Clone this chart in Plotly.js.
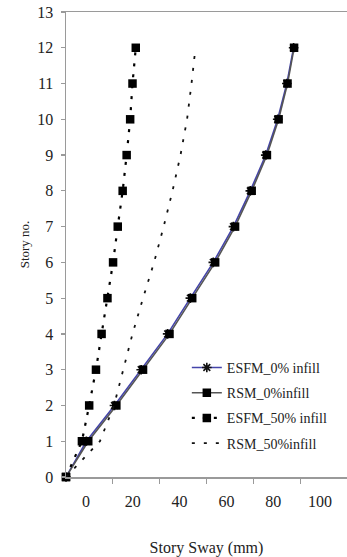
<!DOCTYPE html>
<html><head><meta charset="utf-8">
<script src="https://cdn.plot.ly/plotly-3.0.1.min.js"></script>
<style>html,body{margin:0;padding:0;background:#fff}#chart{width:347px;height:557px}</style>
</head><body><div id="chart"></div>
<script>
// Story numbers (y)
const stories = [0,1,2,3,4,5,6,7,8,9,10,11,12];
// Story sway values (mm), read against the printed x-axis labels
const esfm0  = [-8.5, 0.2, 12.2, 23.6, 34.9, 44.6, 54.4, 63.0, 70.2, 76.8, 81.9, 85.8, 88.7];
const rsm0   = [-8.5, 1.0, 13.0, 24.4, 35.7, 45.4, 55.2, 63.7, 70.8, 77.3, 82.3, 86.1, 88.9];
const esfm50 = [-8.5, -1.7, 1.4, 4.3, 6.7, 9.2, 11.6, 13.6, 15.7, 17.4, 18.9, 19.9, 21.3];
const rsm50  = [-8.5, 6.0, 12.0, 16.0, 19.9, 24.4, 29.1, 33.2, 37.0, 40.4, 43.2, 45.1, 46.8];
const seriesNames = ['ESFM_0% infill','RSM_0%infill','ESFM_50% infill','RSM_50%infill'];
const xTickVals = [0,20,40,60,80,100];
const xTickText = ['0','20','40','60','80','100'];
const yTickVals = [0,1,2,3,4,5,6,7,8,9,10,11,12,13];

const xMin = -8.5, xMax = 111.5;
const xMinorTicks = [];
for (let v = xMin + 20; v < xMax; v += 20) xMinorTicks.push(v);

const traces = [
  {x: esfm0, y: stories, name: seriesNames[0], legendgroup:'a', mode:'lines+markers', cliponaxis:false,
   line:{color:'#4444aa', width:1.6},
   marker:{symbol:'asterisk-open', size:8, color:'#111', line:{color:'#111', width:1.6}}},
  {x: rsm0, y: stories, name: seriesNames[1], legendgroup:'b', mode:'lines+markers', cliponaxis:false,
   line:{color:'#555555', width:1.6},
   marker:{symbol:'square', size:8.5, color:'#000'}},
  {x: esfm50, y: stories, name: seriesNames[2], legendgroup:'c', mode:'lines+markers', cliponaxis:false,
   line:{color:'#000', width:2.2, dash:'3px,8px'},
   marker:{symbol:'square', size:8.5, color:'#000'}},
  {x: rsm50, y: stories, name: seriesNames[3], legendgroup:'d', mode:'lines', cliponaxis:false,
   line:{color:'#111', width:1.8, dash:'3px,9px'}}
];

const axisGray = '#9a9a9a';
const layout = {
  width:347, height:557,
  margin:{l:66, r:0, t:12, b:80},
  paper_bgcolor:'#fff', plot_bgcolor:'#fff',
  font:{family:'"Liberation Serif", "Times New Roman", serif', color:'#222'},
  showlegend:true,
  xaxis:{
    range:[xMin, xMax], tickmode:'array', tickvals:xTickVals, ticktext:xTickText,
    ticks:'', showgrid:false, zeroline:false, showline:true, linecolor:axisGray, linewidth:1.5, mirror:true,
    tickfont:{size:16}, ticklabelstandoff:9,
    minor:{tickmode:'array', tickvals:xMinorTicks, ticks:'outside', ticklen:5, tickcolor:axisGray, tickwidth:1.2, showgrid:false},
    title:{text:'Story Sway (mm)', font:{size:16}, standoff:34}
  },
  yaxis:{
    range:[0,13], tickmode:'array', tickvals:yTickVals, ticks:'outside', ticklen:4, tickcolor:axisGray, tickwidth:1.2,
    showgrid:false, zeroline:false, showline:true, linecolor:axisGray, linewidth:1.5,
    tickfont:{size:16}, ticklabelstandoff:4,
    title:{text:'Story no.', font:{size:13}, standoff:4}
  },
  legend:{x:0.43, y:0.269, xanchor:'left', yanchor:'top', bgcolor:'rgba(0,0,0,0)',
    font:{size:14}, tracegroupgap:4, itemwidth:30}
};

Plotly.newPlot('chart', traces, layout, {displayModeBar:false, staticPlot:true});
</script>
</body></html>
